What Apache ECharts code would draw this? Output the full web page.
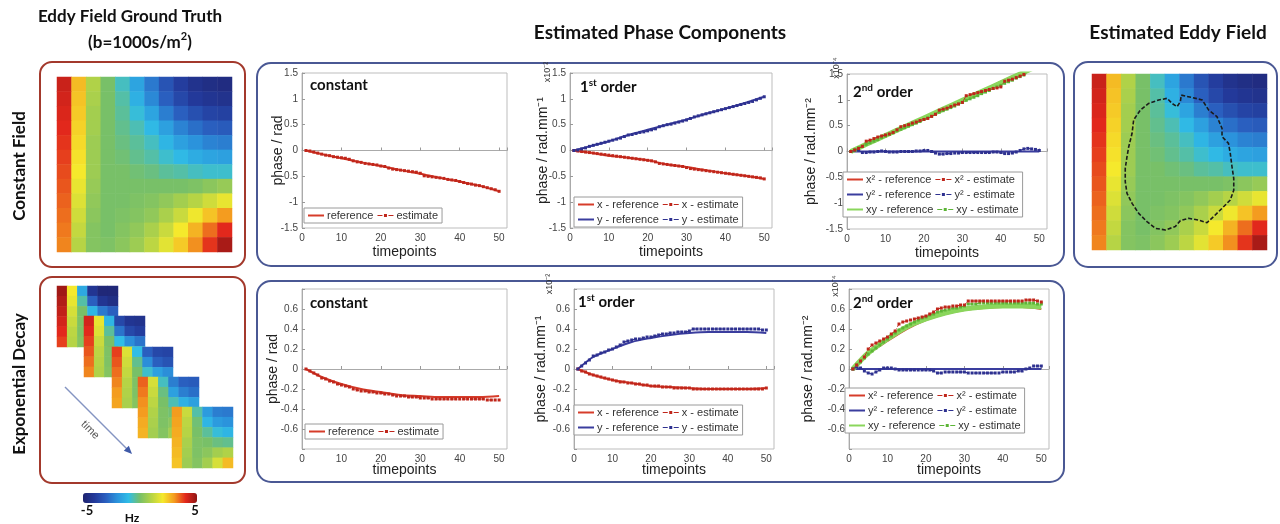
<!DOCTYPE html>
<html>
<head>
<meta charset="utf-8">
<title>Eddy field estimation</title>
<script src="https://cdn.jsdelivr.net/npm/echarts@6/dist/echarts.min.js"></script>
<style>
  html, body { margin: 0; padding: 0; background: #fff; }
  #chart { width: 1280px; height: 524px; }
</style>
</head>
<body>
<div id="chart"></div>
<script>
// ---- data ----
const timepoints = Array.from({ length: 50 }, (_, i) => i + 1);
// reference curves are sampled at these timepoints
const refT = [1, 5, 10, 15, 20, 25, 30, 35, 40, 45, 50];

// constant field row
const refConstTop = [0, -0.07, -0.15, -0.23, -0.3, -0.38, -0.45, -0.53, -0.6, -0.68, -0.79];
const estConstTop = [0, -0.01, -0.03, -0.05, -0.07, -0.09, -0.1, -0.12, -0.13, -0.14,
  -0.15, -0.17, -0.2, -0.22, -0.23, -0.25, -0.26, -0.27, -0.28, -0.3,
  -0.31, -0.34, -0.36, -0.37, -0.38, -0.39, -0.4, -0.41, -0.42, -0.44,
  -0.49, -0.5, -0.51, -0.52, -0.53, -0.54, -0.56, -0.57, -0.58, -0.6,
  -0.62, -0.64, -0.65, -0.67, -0.68, -0.7, -0.72, -0.74, -0.76, -0.79];
const refXTop = [0, -0.04, -0.1, -0.14, -0.19, -0.27, -0.32, -0.38, -0.44, -0.49, -0.55];
const refYTop = [0, 0.08, 0.18, 0.3, 0.4, 0.5, 0.6, 0.71, 0.81, 0.92, 1.04];
const estXTop = [0, -0.01, -0.02, -0.03, -0.04, -0.05, -0.06, -0.07, -0.08, -0.09,
  -0.1, -0.11, -0.12, -0.13, -0.14, -0.15, -0.16, -0.17, -0.18, -0.19,
  -0.2, -0.22, -0.25, -0.26, -0.27, -0.28, -0.29, -0.3, -0.31, -0.33,
  -0.35, -0.36, -0.37, -0.38, -0.39, -0.4, -0.41, -0.42, -0.43, -0.44,
  -0.45, -0.46, -0.47, -0.48, -0.49, -0.5, -0.51, -0.52, -0.53, -0.55];
const estYTop = [0, 0.01, 0.03, 0.05, 0.08, 0.1, 0.12, 0.14, 0.16, 0.18,
  0.2, 0.22, 0.24, 0.27, 0.3, 0.31, 0.33, 0.35, 0.36, 0.38,
  0.4, 0.42, 0.46, 0.48, 0.5, 0.51, 0.53, 0.55, 0.57, 0.59,
  0.62, 0.65, 0.67, 0.69, 0.71, 0.73, 0.75, 0.77, 0.79, 0.81,
  0.83, 0.85, 0.87, 0.89, 0.91, 0.93, 0.95, 0.98, 1.01, 1.04];
const refX2Top = [0, 0.14, 0.31, 0.49, 0.66, 0.83, 1.0, 1.17, 1.35, 1.52, 1.7];
const refY2Top = [0, 0, 0, 0, 0, 0, 0, 0, 0, 0, 0];
const refXYTop = [0, 0.14, 0.31, 0.48, 0.65, 0.82, 0.99, 1.16, 1.33, 1.5, 1.67];
const estX2Top = [0, 0.03, 0.06, 0.1, 0.2, 0.22, 0.25, 0.28, 0.3, 0.32,
  0.34, 0.37, 0.42, 0.48, 0.5, 0.52, 0.55, 0.57, 0.6, 0.62,
  0.64, 0.68, 0.72, 0.8, 0.82, 0.84, 0.87, 0.9, 0.92, 0.95,
  1.08, 1.1, 1.12, 1.14, 1.16, 1.18, 1.2, 1.22, 1.23, 1.25,
  1.36, 1.38, 1.4, 1.43, 1.46, 1.49, 1.55, 1.6, 1.65, 1.7];
const estY2Top = [0, 0.02, 0.03, -0.02, -0.02, -0.01, -0.01, 0, 0.01, 0,
  -0.01, -0.01, -0.01, 0, 0, 0, 0, 0.01, 0.01, 0.02,
  0.02, 0, -0.03, -0.05, -0.05, -0.04, -0.04, -0.03, -0.03, -0.02,
  -0.02, -0.02, -0.02, -0.02, -0.02, -0.02, -0.02, -0.01, -0.01, -0.02,
  -0.04, -0.04, -0.03, -0.01, 0.02, 0.05, 0.06, 0.05, 0.04, 0.02];
const estXYTop = [0, 0.03, 0.07, 0.1, 0.14, 0.17, 0.2, 0.23, 0.27, 0.3,
  0.33, 0.36, 0.4, 0.43, 0.46, 0.49, 0.52, 0.55, 0.58, 0.62,
  0.65, 0.68, 0.72, 0.76, 0.79, 0.82, 0.85, 0.88, 0.92, 0.95,
  0.99, 1.02, 1.05, 1.08, 1.12, 1.15, 1.18, 1.22, 1.25, 1.28,
  1.32, 1.35, 1.38, 1.42, 1.45, 1.48, 1.52, 1.55, 1.58, 1.62];

// exponential decay row
const refConstBot = [0, -0.08, -0.15, -0.2, -0.23, -0.26, -0.27, -0.28, -0.28, -0.28, -0.27];
const estConstBot = [0, -0.02, -0.04, -0.06, -0.09, -0.1, -0.12, -0.13, -0.15, -0.16,
  -0.17, -0.18, -0.2, -0.21, -0.22, -0.22, -0.23, -0.23, -0.24, -0.24,
  -0.25, -0.25, -0.26, -0.27, -0.27, -0.27, -0.28, -0.28, -0.28, -0.29,
  -0.29, -0.29, -0.3, -0.3, -0.3, -0.3, -0.3, -0.3, -0.3, -0.3,
  -0.3, -0.3, -0.3, -0.3, -0.3, -0.3, -0.31, -0.31, -0.31, -0.31];
const refXBot = [0, -0.06, -0.11, -0.14, -0.17, -0.18, -0.19, -0.2, -0.2, -0.2, -0.19];
const refYBot = [0, 0.12, 0.2, 0.27, 0.31, 0.34, 0.36, 0.37, 0.37, 0.37, 0.36];
const estXBot = [0, -0.02, -0.03, -0.05, -0.06, -0.07, -0.08, -0.09, -0.1, -0.11,
  -0.12, -0.13, -0.13, -0.14, -0.14, -0.15, -0.15, -0.16, -0.16, -0.17,
  -0.17, -0.17, -0.18, -0.18, -0.18, -0.19, -0.19, -0.19, -0.19, -0.19,
  -0.2, -0.2, -0.2, -0.2, -0.2, -0.2, -0.2, -0.2, -0.2, -0.2,
  -0.2, -0.2, -0.2, -0.2, -0.2, -0.2, -0.2, -0.2, -0.2, -0.19];
const estYBot = [0, 0.03, 0.06, 0.09, 0.13, 0.14, 0.16, 0.17, 0.19, 0.2,
  0.22, 0.24, 0.27, 0.28, 0.29, 0.3, 0.3, 0.31, 0.32, 0.32,
  0.33, 0.34, 0.35, 0.35, 0.36, 0.36, 0.37, 0.37, 0.37, 0.38,
  0.4, 0.4, 0.4, 0.4, 0.4, 0.4, 0.4, 0.4, 0.4, 0.4,
  0.4, 0.4, 0.4, 0.4, 0.4, 0.4, 0.4, 0.4, 0.39, 0.39];
const refX2Bot = [0, 0.15, 0.28, 0.4, 0.49, 0.55, 0.59, 0.61, 0.62, 0.62, 0.6];
const refY2Bot = [0, 0, 0, 0, 0, 0, 0, 0, 0, 0, 0];
const refXYBot = [0, 0.16, 0.3, 0.42, 0.5, 0.56, 0.6, 0.62, 0.63, 0.63, 0.62];
const estX2Bot = [0, 0.04, 0.08, 0.12, 0.2, 0.24, 0.26, 0.28, 0.3, 0.32,
  0.35, 0.38, 0.45, 0.47, 0.48, 0.49, 0.5, 0.51, 0.52, 0.53,
  0.55, 0.57, 0.6, 0.61, 0.62, 0.62, 0.63, 0.63, 0.64, 0.64,
  0.68, 0.68, 0.68, 0.68, 0.68, 0.68, 0.68, 0.68, 0.68, 0.68,
  0.68, 0.68, 0.68, 0.68, 0.68, 0.69, 0.69, 0.69, 0.68, 0.67];
const estY2Bot = [0, 0.02, 0.01, -0.02, -0.04, -0.05, -0.03, -0.01, 0.01, 0.01,
  0.01, 0, -0.01, -0.01, -0.01, -0.01, -0.01, -0.01, -0.01, -0.01,
  -0.01, -0.02, -0.04, -0.04, -0.03, -0.03, -0.03, -0.03, -0.03, -0.03,
  -0.04, -0.04, -0.04, -0.04, -0.04, -0.04, -0.04, -0.04, -0.04, -0.03,
  -0.03, -0.03, -0.03, -0.02, -0.02, 0, 0.01, 0.03, 0.03, 0.03];
const estXYBot = [0, 0.04, 0.07, 0.11, 0.15, 0.18, 0.21, 0.24, 0.27, 0.3,
  0.33, 0.36, 0.39, 0.41, 0.43, 0.45, 0.47, 0.49, 0.51, 0.52,
  0.54, 0.55, 0.57, 0.58, 0.59, 0.6, 0.61, 0.61, 0.62, 0.63,
  0.65, 0.65, 0.65, 0.66, 0.66, 0.66, 0.66, 0.66, 0.66, 0.66,
  0.66, 0.66, 0.66, 0.66, 0.66, 0.66, 0.66, 0.66, 0.65, 0.65];

// eddy field maps in Hz, rows top -> bottom, columns left -> right
const truthField = [
  [4.3, 2.6, 0.9, 0.0, -0.7, -1.6, -2.5, -3.3, -3.9, -4.3, -4.5, -4.6],
  [4.2, 2.5, 0.8, 0.0, -0.5, -1.3, -2.2, -3.0, -3.6, -4.0, -4.2, -4.3],
  [4.1, 2.4, 0.7, 0.0, -0.4, -0.9, -1.6, -2.4, -3.0, -3.4, -3.7, -3.8],
  [4.0, 2.3, 0.7, 0.0, -0.3, -0.6, -1.1, -1.7, -2.3, -2.7, -3.0, -3.1],
  [3.9, 2.2, 0.6, 0.0, -0.2, -0.4, -0.7, -1.2, -1.7, -2.0, -2.3, -2.4],
  [3.8, 2.1, 0.6, 0.0, -0.1, -0.3, -0.5, -0.8, -1.1, -1.4, -1.6, -1.7],
  [3.7, 2.0, 0.6, 0.0, 0.0, -0.1, -0.2, -0.4, -0.5, -0.7, -0.8, -0.8],
  [3.6, 1.8, 0.5, 0.0, 0.0, 0.0, 0.0, 0.0, 0.0, 0.1, 0.3, 0.5],
  [3.5, 1.6, 0.4, 0.0, 0.0, 0.1, 0.2, 0.4, 0.7, 1.0, 1.4, 1.8],
  [3.4, 1.4, 0.3, 0.0, 0.1, 0.2, 0.4, 0.8, 1.3, 1.9, 2.5, 3.0],
  [3.3, 1.2, 0.2, 0.0, 0.2, 0.4, 0.8, 1.3, 2.0, 2.7, 3.4, 4.0],
  [3.2, 1.0, 0.2, 0.1, 0.3, 0.6, 1.1, 1.7, 2.4, 3.1, 3.9, 4.7]
];
// the estimated map reads the same as the ground truth
const estField = truthField;

const decayFrames = [
  [[4.8, 2.0, -1.5, -4.2, -4.8, -4.8], [4.6, 1.8, -0.5, -3.0, -4.2, -4.5], [4.4, 1.5, 0.0, -1.2, -2.5, -3.0],
   [4.2, 1.3, 0.1, -0.2, -0.6, -1.0], [4.0, 1.1, 0.1, 0.3, 1.0, 1.5], [3.8, 1.0, 0.2, 1.0, 2.5, 3.8]],
  [[4.2, 1.8, -1.2, -3.6, -4.2, -4.3], [4.0, 1.6, -0.4, -2.6, -3.6, -3.9], [3.8, 1.3, 0.0, -1.0, -2.1, -2.6],
   [3.6, 1.1, 0.1, -0.2, -0.5, -0.8], [3.4, 1.0, 0.1, 0.3, 0.9, 1.3], [3.2, 0.9, 0.2, 0.9, 2.1, 3.2]],
  [[3.8, 1.6, -1.0, -3.0, -3.6, -3.7], [3.6, 1.4, -0.3, -2.1, -3.0, -3.3], [3.4, 1.2, 0.0, -0.8, -1.7, -2.1],
   [3.2, 1.0, 0.1, -0.1, -0.4, -0.6], [3.0, 0.9, 0.1, 0.3, 0.8, 1.1], [2.9, 0.8, 0.2, 0.8, 1.8, 2.7]],
  [[3.5, 1.5, -0.7, -2.4, -3.0, -3.1], [3.3, 1.3, -0.2, -1.7, -2.4, -2.7], [3.1, 1.1, 0.0, -0.6, -1.3, -1.7],
   [3.0, 0.9, 0.1, -0.1, -0.3, -0.5], [2.8, 0.8, 0.1, 0.3, 0.7, 1.0], [2.7, 0.7, 0.2, 0.7, 1.6, 2.4]],
  [[3.0, 1.3, -0.5, -1.8, -2.4, -2.5], [2.9, 1.1, -0.1, -1.2, -1.8, -2.0], [2.8, 1.0, 0.0, -0.4, -0.9, -1.2],
   [2.7, 0.8, 0.1, 0.0, -0.2, -0.3], [2.6, 0.7, 0.1, 0.3, 0.7, 0.9], [2.5, 0.6, 0.2, 0.7, 1.5, 2.6]]
];

// brain mask outline on the estimated map (fraction of width / height)
const outlineX = [0.51, 0.6, 0.63, 0.667, 0.714, 0.743, 0.743, 0.78, 0.79, 0.8, 0.81, 0.81, 0.79, 0.743,
  0.695, 0.657, 0.61, 0.552, 0.505, 0.476, 0.419, 0.362, 0.314, 0.267, 0.229, 0.2, 0.19, 0.19, 0.2,
  0.21, 0.229, 0.238, 0.276, 0.324, 0.381, 0.429, 0.457, 0.486, 0.505, 0.51];
const outlineY = [0.12, 0.14, 0.148, 0.205, 0.242, 0.309, 0.356, 0.394, 0.45, 0.527, 0.593, 0.66, 0.716, 0.763,
  0.81, 0.845, 0.83, 0.82, 0.833, 0.867, 0.886, 0.877, 0.839, 0.792, 0.735, 0.678, 0.612, 0.536, 0.47,
  0.413, 0.337, 0.261, 0.205, 0.167, 0.148, 0.138, 0.167, 0.186, 0.157, 0.12];

// ---- styling ----
const RED = '#d63c2a', RED_EST = '#c0261b';
const BLUE = '#3a3d9e', BLUE_EST = '#2e3190';
const GREEN = '#8ad65c', GREEN_EST = '#5cb536';
const JET = ['#1f2470', '#23399a', '#2a5fbf', '#2b93dc', '#30bde6', '#78c068',
  '#b6d445', '#f5e92c', '#f49c1f', '#e2281c', '#901515'];
const TXT = 'Liberation Sans';
const TITLE = 'Lato';
const ICON_LINE = 'path://M0,4 L16,4 L16,6 L0,6 Z';
const ICON_DOTS = 'path://M0,4.5 L5,4.5 L5,5.5 L0,5.5 Z M6.5,3.5 L9.5,3.5 L9.5,6.5 L6.5,6.5 Z M11,4.5 L16,4.5 L16,5.5 L11,5.5 Z';

const chart = echarts.init(document.getElementById('chart'));

const grids = [], xAxes = [], yAxes = [], series = [], legends = [];

// line plots: top row (constant field) and bottom row (exponential decay)
const plotBoxes = [
  { left: 302, top: 73, width: 205, height: 155, row: 'top', yName: 'phase / rad', yGap: 17, xGap: 17 },
  { left: 570, top: 73, width: 202, height: 155, row: 'top', yName: 'phase / rad.mm⁻¹', yGap: 20, xGap: 17 },
  { left: 847, top: 74, width: 200, height: 155, row: 'top', yName: 'phase / rad.mm⁻²', yGap: 29, xGap: 17 },
  { left: 302, top: 289, width: 205, height: 160, row: 'bot', yName: 'phase / rad', yGap: 22, xGap: 14 },
  { left: 574, top: 289, width: 200, height: 160, row: 'bot', yName: 'phase / rad.mm⁻¹', yGap: 26, xGap: 14 },
  { left: 849, top: 289, width: 200, height: 160, row: 'bot', yName: 'phase / rad.mm⁻²', yGap: 34, xGap: 14 }
];

plotBoxes.forEach((b, i) => {
  grids.push({ left: b.left, top: b.top, width: b.width, height: b.height, show: true,
    borderColor: '#bdbdbd', borderWidth: 1, backgroundColor: '#fff' });
  const top = b.row === 'top';
  xAxes.push({
    type: 'value', gridIndex: i, min: 0, max: 52, interval: 10,
    name: 'timepoints', nameLocation: 'middle', nameGap: b.xGap, nameMoveOverlap: false,
    nameTextStyle: { fontFamily: TXT, fontSize: 14, color: '#222' },
    axisLine: { lineStyle: { color: '#aaa' } },
    axisTick: { inside: true, length: 3, lineStyle: { color: '#999' } },
    axisLabel: { fontFamily: TXT, fontSize: 10, color: '#444', margin: 5,
      formatter: v => (v % 10 === 0 ? String(v) : '') },
    splitLine: { show: false }
  });
  yAxes.push({
    type: 'value', gridIndex: i,
    min: top ? -1.5 : -0.8, max: top ? 1.5 : 0.8, interval: top ? 0.5 : 0.2,
    name: b.yName, nameLocation: 'middle', nameGap: b.yGap, nameRotate: 90, nameMoveOverlap: false,
    nameTextStyle: { fontFamily: TXT, fontSize: 14, color: '#222' },
    axisLine: { show: true, lineStyle: { color: '#aaa' } },
    axisTick: { show: true, inside: true, length: 3, lineStyle: { color: '#999' } },
    axisLabel: { fontFamily: TXT, fontSize: 10, color: '#444', margin: 4,
      formatter: v => (Math.abs(v) > (top ? 1.6 : 0.7) ? '' : String(+v.toFixed(1))) },
    splitLine: { show: false }
  });
});

function refLine(name, vals, axis, color, width) {
  series.push({
    name, type: 'line', xAxisIndex: axis, yAxisIndex: axis,
    data: vals.map((v, k) => [refT[k], v]),
    smooth: 0.3, symbol: 'none', color,
    lineStyle: { color, width }, z: 3, silent: true
  });
}
function estLine(name, vals, axis, color) {
  series.push({
    name, type: 'line', xAxisIndex: axis, yAxisIndex: axis,
    data: vals.map((v, k) => [timepoints[k], v]),
    symbol: 'rect', symbolSize: 3, color,
    itemStyle: { color },
    lineStyle: { color, width: 1, type: [4, 2, 1, 2] }, z: 4, silent: true
  });
}

// constant field row
refLine('reference', refConstTop, 0, RED, 2);
estLine('estimate', estConstTop, 0, RED_EST);
refLine('x - reference', refXTop, 1, RED, 2);
refLine('y - reference', refYTop, 1, BLUE, 2);
estLine('x - estimate', estXTop, 1, RED_EST);
estLine('y - estimate', estYTop, 1, BLUE_EST);
refLine('y² - reference', refY2Top, 2, BLUE, 2);
refLine('x² - reference', refX2Top, 2, RED, 2);
refLine('xy - reference', refXYTop, 2, GREEN, 5);
estLine('y² - estimate', estY2Top, 2, BLUE_EST);
estLine('xy - estimate', estXYTop, 2, GREEN_EST);
estLine('x² - estimate', estX2Top, 2, RED_EST);
// exponential decay row
refLine('reference', refConstBot, 3, RED, 2);
estLine('estimate', estConstBot, 3, RED_EST);
refLine('x - reference', refXBot, 4, RED, 2);
refLine('y - reference', refYBot, 4, BLUE, 2);
estLine('x - estimate', estXBot, 4, RED_EST);
estLine('y - estimate', estYBot, 4, BLUE_EST);
refLine('y² - reference', refY2Bot, 5, BLUE, 2);
refLine('x² - reference', refX2Bot, 5, RED, 2);
refLine('xy - reference', refXYBot, 5, GREEN, 5);
estLine('y² - estimate', estY2Bot, 5, BLUE_EST);
estLine('xy - estimate', estXYBot, 5, GREEN_EST);
estLine('x² - estimate', estX2Bot, 5, RED_EST);

const legBase = {
  orient: 'horizontal', itemWidth: 16, itemHeight: 10, itemGap: 4, padding: [2, 4],
  borderColor: '#9a9a9a', borderWidth: 1, backgroundColor: '#fff', selectedMode: false,
  textStyle: { fontFamily: TXT, fontSize: 11, color: '#333', padding: [0, 0, 0, -2] }
};
const legItems = names => names.map(n => ({ name: n, icon: n.indexOf('reference') >= 0 ? ICON_LINE : ICON_DOTS }));
const legA = ['reference', 'estimate'];
const legB = ['x - reference', 'x - estimate', 'y - reference', 'y - estimate'];
const legC = ['x² - reference', 'x² - estimate', 'y² - reference', 'y² - estimate', 'xy - reference', 'xy - estimate'];
legends.push(Object.assign({}, legBase, { left: 304, top: 208, data: legItems(legA) }));
legends.push(Object.assign({}, legBase, { left: 574, top: 197, width: 190, data: legItems(legB) }));
legends.push(Object.assign({}, legBase, { left: 843, top: 172, width: 200, data: legItems(legC) }));
legends.push(Object.assign({}, legBase, { left: 305, top: 424, data: legItems(legA) }));
legends.push(Object.assign({}, legBase, { left: 574, top: 405, width: 190, data: legItems(legB) }));
legends.push(Object.assign({}, legBase, { left: 845, top: 388, width: 200, data: legItems(legC) }));

// heat maps
const heatIdx = [];
function addMap(field, box, z) {
  const g = grids.length;
  grids.push(Object.assign({ show: false }, box));
  xAxes.push({ type: 'category', gridIndex: g, show: false, data: field[0].map((_, c) => c) });
  yAxes.push({ type: 'category', gridIndex: g, show: false, inverse: true, data: field.map((_, r) => r) });
  const cells = [];
  field.forEach((row, r) => row.forEach((v, c) => cells.push([c, r, v])));
  heatIdx.push(series.length);
  series.push({ type: 'heatmap', xAxisIndex: g, yAxisIndex: g, data: cells, z, silent: true,
    emphasis: { disabled: true } });
  return g;
}
addMap(truthField, { left: 57, top: 77, width: 175, height: 175 }, 2);
const frameLeft = [57, 84, 112, 138, 172];
const frameTop = [286, 316, 347, 377, 407];
decayFrames.forEach((f, k) => addMap(f, { left: frameLeft[k], top: frameTop[k], width: 61, height: 61 }, 2 + k));
addMap(estField, { left: 1092, top: 74, width: 175, height: 176 }, 2);

// mask outline overlay on the estimated map
const og = grids.length;
grids.push({ show: false, left: 1092, top: 74, width: 175, height: 176 });
xAxes.push({ type: 'value', gridIndex: og, min: 0, max: 1, show: false });
yAxes.push({ type: 'value', gridIndex: og, min: 0, max: 1, inverse: true, show: false });
series.push({ type: 'line', xAxisIndex: og, yAxisIndex: og, symbol: 'none', silent: true, z: 10,
  data: outlineX.map((x, k) => [x, outlineY[k]]),
  lineStyle: { color: '#1b1b1b', width: 1.6, type: [4, 2] } });

function txt(text, x, y, font, extra) {
  return Object.assign({ type: 'text', x, y, silent: true, z: 20,
    style: { text, font, fill: '#111', align: 'center', verticalAlign: 'middle' } }, extra || {});
}
function orderTitle(n, sup, x, y) {
  return { type: 'text', x, y, silent: true, z: 20,
    style: { text: '{b|' + n + '}{s|' + sup + '}{b| order}', fill: '#111', align: 'left', verticalAlign: 'top',
      rich: { b: { font: 'bold 15px ' + TITLE, lineHeight: 17, verticalAlign: 'bottom' },
              s: { font: 'bold 10px ' + TITLE, lineHeight: 17, verticalAlign: 'top' } } } };
}
function expo(text, x, y) {
  return { type: 'text', x, y, rotation: Math.PI / 2, silent: true, z: 20,
    style: { text, font: '9px ' + TXT, fill: '#333', align: 'center', verticalAlign: 'middle' } };
}

const blueBox = '#4a5894', redBox = '#a3392c';
const graphic = [
  { type: 'rect', silent: true, z: 0, shape: { x: 40, y: 62, width: 205, height: 205, r: 12 }, style: { fill: 'none', stroke: redBox, lineWidth: 2 } },
  { type: 'rect', silent: true, z: 0, shape: { x: 40, y: 277, width: 205, height: 206, r: 12 }, style: { fill: 'none', stroke: redBox, lineWidth: 2 } },
  { type: 'rect', silent: true, z: 0, shape: { x: 257, y: 63, width: 807, height: 203, r: 14 }, style: { fill: 'none', stroke: blueBox, lineWidth: 2 } },
  { type: 'rect', silent: true, z: 0, shape: { x: 257, y: 281, width: 807, height: 201, r: 14 }, style: { fill: 'none', stroke: blueBox, lineWidth: 2 } },
  { type: 'rect', silent: true, z: 0, shape: { x: 1074, y: 62, width: 203, height: 205, r: 14 }, style: { fill: 'none', stroke: blueBox, lineWidth: 2 } },
  txt('Eddy Field Ground Truth', 130, 17, 'bold 17px ' + TITLE),
  { type: 'text', x: 140, y: 41, silent: true, z: 20,
    style: { text: '{b|(b=1000s/m}{s|2}{b|)}', align: 'center', verticalAlign: 'middle', fill: '#111',
      rich: { b: { font: 'bold 17px ' + TITLE, lineHeight: 20, verticalAlign: 'bottom' },
              s: { font: 'bold 11px ' + TITLE, lineHeight: 20, verticalAlign: 'top' } } } },
  txt('Estimated Phase Components', 660, 33, 'bold 19px ' + TITLE),
  txt('Estimated Eddy Field', 1178, 33, 'bold 19px ' + TITLE),
  txt('Constant Field', 20, 166, 'bold 17px ' + TITLE, { rotation: Math.PI / 2 }),
  txt('Exponential Decay', 20, 384, 'bold 17px ' + TITLE, { rotation: Math.PI / 2 }),
  { type: 'text', x: 310, y: 78, silent: true, z: 20, style: { text: 'constant', font: 'bold 15px ' + TITLE, fill: '#111' } },
  { type: 'text', x: 310, y: 296, silent: true, z: 20, style: { text: 'constant', font: 'bold 15px ' + TITLE, fill: '#111' } },
  orderTitle('1', 'st', 580, 78),
  orderTitle('2', 'nd', 853, 83),
  orderTitle('1', 'st', 578, 293),
  orderTitle('2', 'nd', 853, 294),
  expo('x10⁻²', 548, 72),
  expo('x10⁻⁴', 837, 68),
  expo('x10⁻²', 550, 284),
  expo('x10⁻⁴', 836, 286),
  { type: 'line', silent: true, z: 20, shape: { x1: 65, y1: 387, x2: 128, y2: 450 },
    style: { stroke: '#8494c2', lineWidth: 1.5 } },
  { type: 'polygon', silent: true, z: 20, shape: { points: [[132, 454], [123.8, 450.8], [128.8, 445.8]] },
    style: { fill: '#3f5aa8' } },
  { type: 'text', x: 90, y: 430, rotation: -Math.PI / 4, silent: true, z: 20,
    style: { text: 'time', font: '11px ' + TXT, fill: '#555', align: 'center', verticalAlign: 'middle' } },
  txt('-5', 87, 511, 'bold 13px ' + TITLE),
  txt('5', 195, 511, 'bold 13px ' + TITLE),
  txt('Hz', 132, 518, 'bold 12px ' + TITLE)
];

chart.setOption({
  backgroundColor: '#fff',
  animation: false,
  grid: grids,
  xAxis: xAxes,
  yAxis: yAxes,
  legend: legends,
  visualMap: {
    type: 'continuous', min: -5, max: 5, seriesIndex: heatIdx,
    inRange: { color: JET }, orient: 'horizontal', left: 83, top: 493,
    itemWidth: 10, itemHeight: 114, calculable: false, padding: 0,
    text: null, hoverLink: false, showLabel: false
  },
  graphic,
  series
});
</script>
</body>
</html>
